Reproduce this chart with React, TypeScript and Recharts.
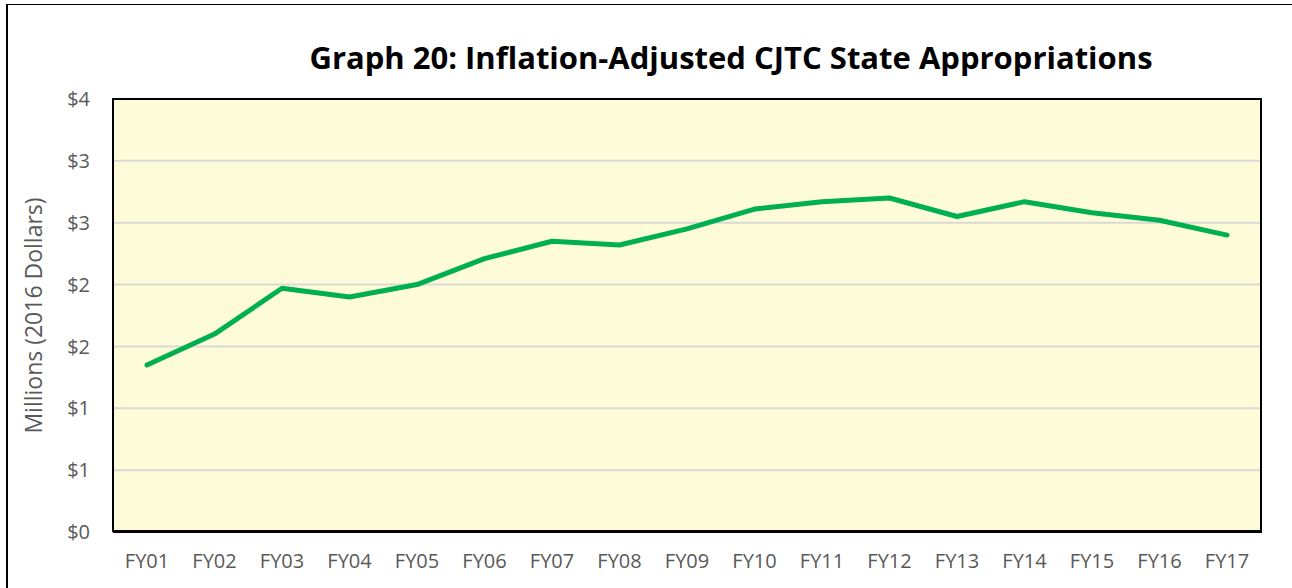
import React from "react";
import { LineChart, Line, XAxis, YAxis, CartesianGrid } from "recharts";

const years = ["FY01", "FY02", "FY03", "FY04", "FY05", "FY06", "FY07", "FY08", "FY09", "FY10", "FY11", "FY12", "FY13", "FY14", "FY15", "FY16", "FY17"];
const appropriations = [1.35, 1.6, 1.97, 1.9, 2.0, 2.21, 2.35, 2.32, 2.45, 2.61, 2.67, 2.7, 2.55, 2.67, 2.58, 2.52, 2.4];
const yTicks = [0, 0.5, 1, 1.5, 2, 2.5, 3, 3.5];

const data = years.map((fy, i) => ({ fy, value: appropriations[i] }));

const FONT = "'Open Sans', sans-serif";
const GREY = "#595959";

const YLabel = ({ viewBox }: any) => {
    const cx = viewBox.x + 33;
    const cy = viewBox.y + viewBox.height / 2;
    return (
        <text
            x={cx}
            y={cy}
            transform={`rotate(-90, ${cx}, ${cy})`}
            textAnchor="middle"
            dominantBaseline="central"
            fill={GREY}
            fontSize={23}
            fontFamily={FONT}
        >
            Millions (2016 Dollars)
        </text>
    );
};

export default function App() {
    return (
        <div
            style={{
                position: "fixed",
                left: 0,
                top: 0,
                width: 1292,
                height: 588,
                background: "#fff",
                fontFamily: FONT,
                overflow: "hidden",
            }}
        >
            {/* outer frame */}
            <div
                style={{
                    position: "absolute",
                    left: 6,
                    top: 4,
                    width: 1284,
                    height: 620,
                    borderLeft: "2px solid #000",
                    borderTop: "1px solid #000",
                    borderRight: "1px solid #888",
                }}
            />
            <div
                style={{
                    position: "absolute",
                    left: 231,
                    width: 1000,
                    top: 35,
                    textAlign: "center",
                    fontSize: 31,
                    fontWeight: 700,
                    color: "#000",
                    lineHeight: "44px",
                    whiteSpace: "nowrap",
                }}
            >
                Graph 20: Inflation-Adjusted CJTC State Appropriations
            </div>
            <LineChart
                width={1292}
                height={588}
                data={data}
                margin={{ top: 99, right: 30, left: 0, bottom: 0 }}
                style={{ position: "absolute", left: 0, top: 0 }}
            >
                <CartesianGrid vertical={false} stroke="#d9d9d9" strokeWidth={2} fill="#fefcd8" />
                <XAxis
                    dataKey="fy"
                    height={56}
                    padding={{ left: 34, right: 35 }}
                    tickSize={0}
                    tickMargin={22}
                    axisLine={{ stroke: "#000", strokeWidth: 2 }}
                    tick={{ fill: GREY, fontSize: 20 }}
                    interval={0}
                />
                <YAxis
                    domain={[0, 3.5]}
                    ticks={yTicks}
                    width={113}
                    tickSize={0}
                    tickMargin={23}
                    axisLine={{ stroke: "#000", strokeWidth: 2 }}
                    tick={{ fill: GREY, fontSize: 20 }}
                    tickFormatter={(v: number) => `$${Math.round(v)}`}
                    label={<YLabel />}
                />
                <Line
                    type="linear"
                    dataKey="value"
                    stroke="#00b050"
                    strokeWidth={5}
                    strokeLinecap="round"
                    strokeLinejoin="round"
                    dot={false}
                    activeDot={false}
                    isAnimationActive={false}
                />
            </LineChart>
            {/* plot area frame */}
            <div
                style={{
                    position: "absolute",
                    left: 112,
                    top: 98,
                    width: 1150,
                    height: 434,
                    border: "2px solid #000",
                    boxSizing: "border-box",
                    pointerEvents: "none",
                }}
            />
        </div>
    );
}
